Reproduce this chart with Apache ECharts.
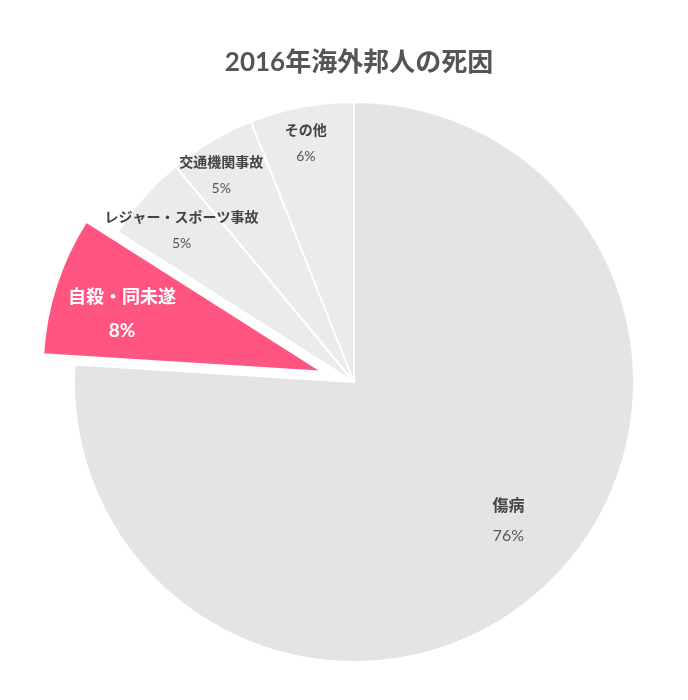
<!DOCTYPE html>
<html>
<head>
<meta charset="utf-8">
<script src="https://cdn.jsdelivr.net/npm/echarts@6/dist/echarts.min.js"></script>
<style>
  html, body { margin: 0; padding: 0; background: #fff; }
  #chart { width: 688px; height: 700px; }
</style>
</head>
<body>
<div id="chart"></div>
<script>
// 2016年 海外邦人の死因（割合, %）
const categories = ['傷病', '自殺・同未遂', 'レジャー・スポーツ事故', '交通機関事故', 'その他'];
const shares = [76, 8, 5, 5, 6];
const highlighted = '自殺・同未遂';

// slice colours and label placement (radius ratio, angular nudge in degrees)
const sliceColors = ['#e4e4e4', '#ff5580', '#ebebeb', '#ebebeb', '#ebebeb'];
const labelRadius = [0.73, 0.735, 0.81, 0.865, 0.86];
const labelTurn = [5, 2, 0, 2.2, 0.6];

const FONT = 'Lato, "Noto Sans CJK JP", sans-serif';
const START_ANGLE = 90;
const PIE_RADIUS = 280;

// mid angle of every slice in screen radians (clockwise from the start angle)
const total = shares.reduce((s, v) => s + v, 0);
const midAngles = [];
{
  let acc = 0;
  shares.forEach(v => {
    const startDeg = -START_ANGLE + 360 * acc / total;
    acc += v;
    const endDeg = -START_ANGLE + 360 * acc / total;
    midAngles.push((startDeg + endDeg) / 2 * Math.PI / 180);
  });
}

const chart = echarts.init(document.getElementById('chart'), null, { renderer: 'canvas' });

const data = categories.map((name, i) => {
  const isHi = name === highlighted;
  const isMain = i === 0;
  return {
    name,
    value: shares[i],
    selected: isHi,
    itemStyle: { color: sliceColors[i] },
    label: {
      formatter: '{n|{b}}\n{v|{c}%}',
      rich: isHi ? {
        n: { fontFamily: FONT, fontSize: 18, fontWeight: 'bold', color: '#fff', lineHeight: 33 },
        v: { fontFamily: FONT, fontSize: 19, fontWeight: 'bold', color: '#fff', lineHeight: 33 }
      } : isMain ? {
        n: { fontFamily: FONT, fontSize: 16, fontWeight: 'bold', color: '#444', lineHeight: 30 },
        v: { fontFamily: FONT, fontSize: 16, color: '#555', lineHeight: 30 }
      } : {
        n: { fontFamily: FONT, fontSize: 14, fontWeight: 'bold', color: '#444', lineHeight: 26 },
        v: { fontFamily: FONT, fontSize: 14, color: '#555', lineHeight: 26 }
      }
    }
  };
});

chart.setOption({
  animation: false,
  backgroundColor: '#fff',
  title: {
    text: '2016年海外邦人の死因',
    left: 354,
    textAlign: 'center',
    top: 45,
    textStyle: { fontFamily: FONT, fontSize: 26, fontWeight: 'bold', color: '#555' }
  },
  series: [{
    type: 'pie',
    center: [354, 382],
    radius: [0, PIE_RADIUS],
    startAngle: START_ANGLE,
    clockwise: true,
    selectedMode: 'single',
    selectedOffset: 33,
    silent: true,
    emphasis: { disabled: true, scale: false },
    itemStyle: { borderColor: '#fff', borderWidth: 2 },
    label: { show: true, position: 'inside', align: 'center' },
    labelLine: { show: false },
    // push each inside label from half radius out to its own radius ratio
    labelLayout: function (params) {
      const i = params.dataIndex;
      const mid = midAngles[i];
      const a = mid - labelTurn[i] * Math.PI / 180;
      const k = labelRadius[i];
      return {
        hideOverlap: false,
        dx: (k * Math.cos(a) - 0.5 * Math.cos(mid)) * PIE_RADIUS,
        dy: (k * Math.sin(a) - 0.5 * Math.sin(mid)) * PIE_RADIUS
      };
    },
    data
  }]
});
</script>
</body>
</html>
